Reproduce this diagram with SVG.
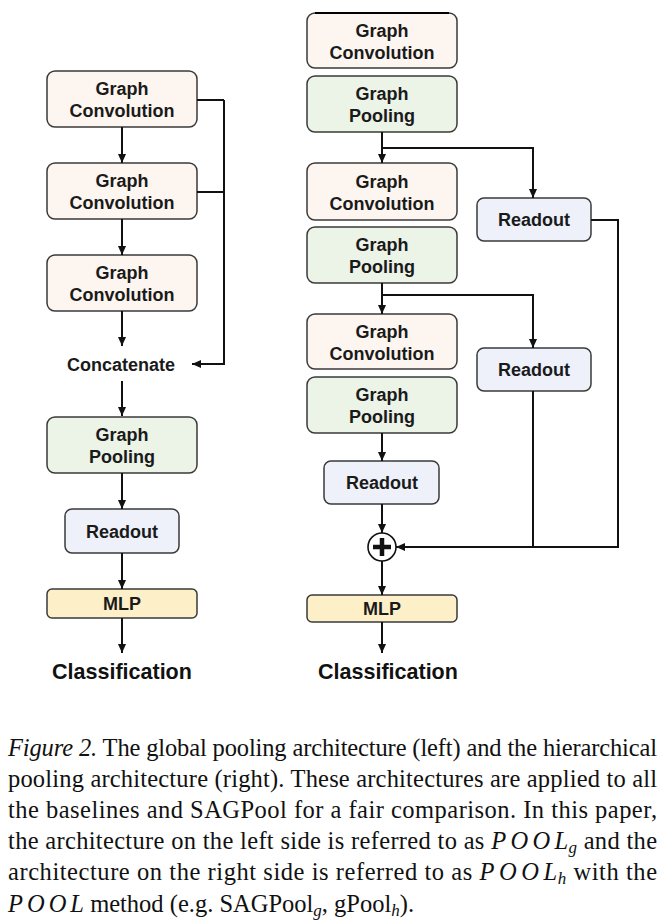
<svg xmlns="http://www.w3.org/2000/svg" width="664" height="920" viewBox="0 0 664 920">
<style>
.box{stroke:#3a3a3a;stroke-width:1.5}
.conv{fill:#fdf5ef}
.pool{fill:#ecf3e7}
.read{fill:#eef1f9}
.mlp{fill:#fdefc8}
.lbl{font-family:"Liberation Sans",Arial,sans-serif;font-weight:bold;font-size:18px;fill:#1a1a1a;text-anchor:middle}
.big{font-family:"Liberation Sans",Arial,sans-serif;font-weight:bold;font-size:21.5px;fill:#111;text-anchor:middle}
.ln{fill:none;stroke:#111;stroke-width:2}
.arr{marker-end:url(#ah)}
.cap{font-family:"Liberation Serif","Times New Roman",serif;font-size:24.5px;fill:#111}
.it{font-style:italic}
.m{font-style:italic;letter-spacing:4px}
.sub{font-style:italic;font-size:17px}
</style>
<defs>
<marker id="ah" viewBox="0 0 9 8" refX="9" refY="4" markerWidth="9" markerHeight="8" markerUnits="userSpaceOnUse" orient="auto">
<path d="M0,0 L9,4 L0,8 z" fill="#111"/>
</marker>
</defs>

<!-- Left column nodes -->
<g id="L-gc1"><rect class="box conv" x="47" y="71" width="150" height="56" rx="8"/><text class="lbl" x="122" y="95">Graph</text><text class="lbl" x="122" y="117">Convolution</text></g>
<g id="L-gc2"><rect class="box conv" x="47" y="163" width="150" height="56" rx="8"/><text class="lbl" x="122" y="187">Graph</text><text class="lbl" x="122" y="209">Convolution</text></g>
<g id="L-gc3"><rect class="box conv" x="47" y="255" width="150" height="56" rx="8"/><text class="lbl" x="122" y="279">Graph</text><text class="lbl" x="122" y="301">Convolution</text></g>
<g id="L-concat"><text class="lbl" x="121" y="371">Concatenate</text></g>
<g id="L-gp"><rect class="box pool" x="47" y="417" width="150" height="56" rx="8"/><text class="lbl" x="122" y="441">Graph</text><text class="lbl" x="122" y="463">Pooling</text></g>
<g id="L-readout"><rect class="box read" x="65" y="509" width="114" height="44" rx="7"/><text class="lbl" x="122" y="538">Readout</text></g>
<g id="L-mlp"><rect class="box mlp" x="47" y="589" width="150" height="29" rx="5"/><text class="lbl" x="122" y="610">MLP</text></g>
<g id="L-class"><text class="big" x="122" y="679">Classification</text></g>

<!-- Right column nodes -->
<g id="R-gc1"><rect class="box conv" x="307" y="13" width="150" height="55" rx="8"/><line x1="315" y1="13" x2="449" y2="13" stroke="#000" stroke-width="2"/><text class="lbl" x="382" y="37">Graph</text><text class="lbl" x="382" y="59">Convolution</text></g>
<g id="R-gp1"><rect class="box pool" x="307" y="76" width="150" height="56" rx="8"/><text class="lbl" x="382" y="100">Graph</text><text class="lbl" x="382" y="122">Pooling</text></g>
<g id="R-gc2"><rect class="box conv" x="307" y="163" width="150" height="57" rx="8"/><text class="lbl" x="382" y="188">Graph</text><text class="lbl" x="382" y="210">Convolution</text></g>
<g id="R-gp2"><rect class="box pool" x="307" y="227" width="150" height="56" rx="8"/><text class="lbl" x="382" y="251">Graph</text><text class="lbl" x="382" y="273">Pooling</text></g>
<g id="R-gc3"><rect class="box conv" x="307" y="314" width="150" height="55" rx="8"/><text class="lbl" x="382" y="338">Graph</text><text class="lbl" x="382" y="360">Convolution</text></g>
<g id="R-gp3"><rect class="box pool" x="307" y="377" width="150" height="56" rx="8"/><text class="lbl" x="382" y="401">Graph</text><text class="lbl" x="382" y="423">Pooling</text></g>
<g id="R-readout1"><rect class="box read" x="477" y="198" width="114" height="43" rx="7"/><text class="lbl" x="534" y="226">Readout</text></g>
<g id="R-readout2"><rect class="box read" x="477" y="348" width="114" height="43" rx="7"/><text class="lbl" x="534" y="376">Readout</text></g>
<g id="R-readout3"><rect class="box read" x="324" y="461" width="115" height="43" rx="7"/><text class="lbl" x="382" y="489">Readout</text></g>
<g id="R-sum"><circle cx="382" cy="547" r="14" fill="#fff" stroke="#111" stroke-width="1.6"/><path d="M373,547 H391 M382,538 V556" stroke="#111" stroke-width="4.5" fill="none"/></g>
<g id="R-mlp"><rect class="box mlp" x="307" y="595" width="150" height="27" rx="5"/><text class="lbl" x="382" y="615">MLP</text></g>
<g id="R-class"><text class="big" x="388" y="679">Classification</text></g>

<!-- Connectors -->
<g id="connectors">
<line class="ln arr" x1="122" y1="127" x2="122" y2="163"/>
<line class="ln arr" x1="122" y1="219" x2="122" y2="255"/>
<line class="ln arr" x1="122" y1="311" x2="122" y2="346"/>
<polyline class="ln" points="197,100 224,100"/>
<polyline class="ln" points="197,192 224,192"/>
<polyline class="ln arr" points="224,100 224,364 192,364"/>
<line class="ln arr" x1="122" y1="381" x2="122" y2="416"/>
<line class="ln arr" x1="122" y1="473" x2="122" y2="509"/>
<line class="ln arr" x1="122" y1="553" x2="122" y2="589"/>
<line class="ln arr" x1="122" y1="618" x2="122" y2="653"/>

<line class="ln arr" x1="382" y1="132" x2="382" y2="163"/>
<polyline class="ln arr" points="382,148 533,148 533,198"/>
<polyline class="ln arr" points="591,220 618,220 618,547 396,547"/>
<line class="ln arr" x1="382" y1="283" x2="382" y2="314"/>
<polyline class="ln arr" points="382,295 533,295 533,348"/>
<line class="ln" x1="533" y1="391" x2="533" y2="547"/>
<line class="ln arr" x1="382" y1="433" x2="382" y2="461"/>
<line class="ln arr" x1="382" y1="504" x2="382" y2="533"/>
<line class="ln arr" x1="382" y1="561" x2="382" y2="595"/>
<line class="ln arr" x1="382" y1="622" x2="382" y2="653"/>
</g>

<!-- Caption -->
<g id="caption">
<text class="cap" x="8" y="756" textLength="649" lengthAdjust="spacing"><tspan class="it">Figure 2.</tspan> The global pooling architecture (left) and the hierarchical</text>
<text class="cap" x="8" y="787" textLength="649" lengthAdjust="spacing">pooling architecture (right). These architectures are applied to all</text>
<text class="cap" x="8" y="818" textLength="649" lengthAdjust="spacing">the baselines and SAGPool for a fair comparison.  In this paper,</text>
<text class="cap" x="8" y="849" textLength="649" lengthAdjust="spacing">the architecture on the left side is referred to as <tspan class="m">POO</tspan><tspan class="it">L</tspan><tspan class="sub" dy="4">g</tspan><tspan dy="-4"> and the</tspan></text>
<text class="cap" x="8" y="880" textLength="649" lengthAdjust="spacing">architecture on the right side is referred to as <tspan class="m">POO</tspan><tspan class="it">L</tspan><tspan class="sub" dy="4">h</tspan><tspan dy="-4"> with the</tspan></text>
<text class="cap" x="8" y="912"><tspan class="m">POO</tspan><tspan class="it">L</tspan> method (e.g. SAGPool<tspan class="sub" dy="4">g</tspan><tspan dy="-4">, gPool</tspan><tspan class="sub" dy="4">h</tspan><tspan dy="-4">).</tspan></text>
</g>
</svg>
